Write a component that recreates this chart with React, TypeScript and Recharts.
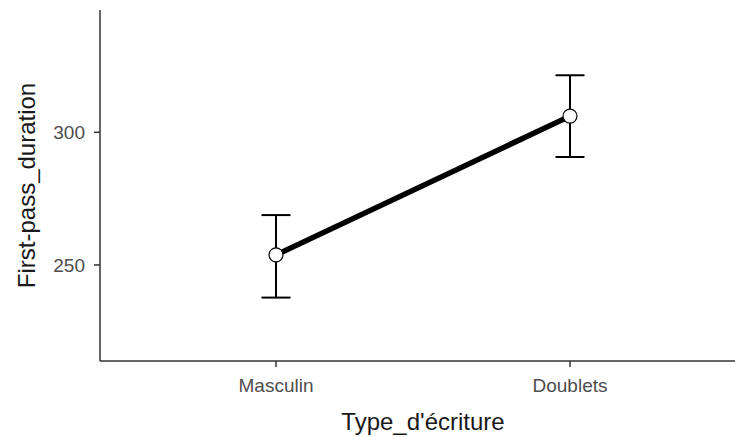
import { ComposedChart, Line, XAxis, YAxis, ErrorBar } from "recharts";

const categories = ["Masculin", "Doublets"];
const means = [253.8, 306.1];
const lower = [237.7, 290.7];
const upper = [268.8, 321.5];
const yTicks = [250, 300];

// ErrorBar wants offsets from the mean, not absolute bounds
const data = categories.map((name, i) => ({
  name,
  mean: means[i],
  err: [means[i] - lower[i], upper[i] - means[i]],
}));

const FONT = "'Liberation Sans', Arial, Helvetica, sans-serif";
const AXIS = "#333333";

export default function App() {
  return (
    <div
      style={{
        position: "absolute",
        left: 0,
        top: 0,
        width: 735,
        height: 437,
        overflow: "hidden",
        background: "#fff",
        fontFamily: FONT,
      }}
    >
      <ComposedChart
        width={760}
        height={437}
        data={data}
        margin={{ top: 10, right: 14, left: 0, bottom: 0 }}
      >
        <XAxis
          dataKey="name"
          type="category"
          scale="point"
          padding={{ left: 176, right: 176 }}
          height={76}
          tickSize={6}
          tickMargin={12}
          axisLine={{ stroke: AXIS, strokeWidth: 1.5 }}
          tickLine={{ stroke: AXIS, strokeWidth: 1.5 }}
          tick={{ fontSize: 19, fill: "#4d4d4d", fontFamily: FONT }}
          label={{
            value: "Type_d'écriture",
            position: "insideBottom",
            offset: 7,
            style: { fontSize: 24, fill: "#1a1a1a", fontFamily: FONT, textAnchor: "middle" },
          }}
        />
        <YAxis
          type="number"
          domain={[213.8, 346.1]}
          ticks={yTicks}
          allowDataOverflow
          width={100}
          tickSize={6}
          tickMargin={9}
          axisLine={{ stroke: AXIS, strokeWidth: 1.5 }}
          tickLine={{ stroke: AXIS, strokeWidth: 1.5 }}
          tick={{ fontSize: 19, fill: "#4d4d4d", fontFamily: FONT }}
          label={{
            value: "First-pass_duration",
            angle: -90,
            position: "insideLeft",
            offset: 26,
            style: { fontSize: 24, fill: "#1a1a1a", fontFamily: FONT, textAnchor: "middle" },
          }}
        />
        <Line
          dataKey="mean"
          stroke="#000"
          strokeWidth={5.5}
          isAnimationActive={false}
          activeDot={false}
          dot={{ r: 7, fill: "#fff", stroke: "#000", strokeWidth: 1.2 }}
        >
          <ErrorBar
            dataKey="err"
            direction="y"
            width={14.5}
            stroke="#000"
            strokeWidth={2}
            isAnimationActive={false}
          />
        </Line>
      </ComposedChart>
    </div>
  );
}
